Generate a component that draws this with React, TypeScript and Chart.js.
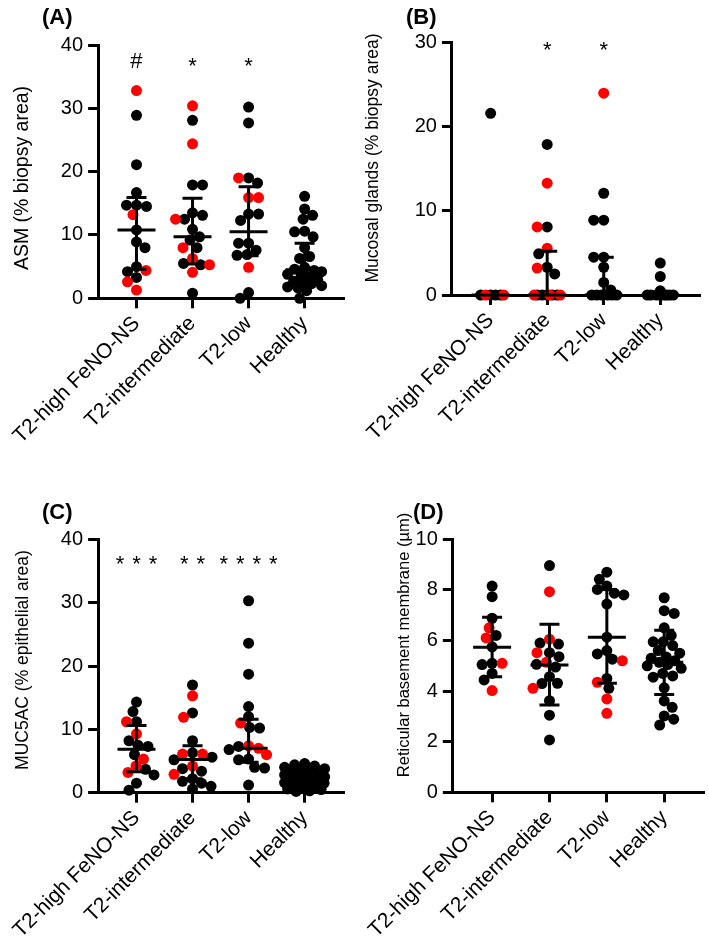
import React, { useEffect, useRef } from 'react';
import { Chart, registerables } from 'chart.js';

Chart.register(...registerables);

// ---------------- DATA ----------------
const categories = ['T2-high FeNO-NS', 'T2-intermediate', 'T2-low', 'Healthy'];

// (A) ASM (% biopsy area)
const asmBlack = [
  [28.9, 21.1, 16.7, 14.7, 14.7, 14.5, 10.8, 8.9, 8.0, 5.0, 4.2, 3.3],
  [28.1, 17.9, 17.9, 13.5, 13.1, 12.5, 10.9, 9.7, 9.2, 8.0, 5.5, 5.3, 0.8],
  [30.2, 27.7, 19.0, 18.2, 13.3, 13.3, 12.3, 8.7, 8.7, 7.6, 6.8, 6.9, 0.9, 0],
  [16.1, 14.1, 13.1, 12.5, 10.6, 10.5, 9.7, 8.0, 6.6, 6.3, 4.9, 4.6, 4.4, 4.2, 3.8, 3.5, 3.4, 3.0, 2.7, 2.5, 2.3, 2.0, 1.8, 1.6, 1.2, 0],
];
const asmRed = [
  [32.8, 13.2, 4.4, 2.6, 1.3],
  [30.4, 24.4, 12.5, 8.0, 6.3, 5.3, 4.1],
  [19.0, 15.9, 15.9, 4.9],
  [],
];
const asmMedian = [10.8, 9.7, 10.5, 4.5];
const asmQ1 = [4.6, 5.4, 6.7, 2.5];
const asmQ3 = [15.9, 15.8, 17.6, 8.7];
const asmMarks = ['#', '*', '*', ''];

// (B) Mucosal glands (% biopsy area)
const glandBlack = [
  [21.6, 0, 0, 0, 0],
  [17.9, 8.1, 4.9, 3.3, 2.5, 0, 0, 0, 0, 0],
  [12.1, 8.9, 8.9, 4.5, 4.5, 3.3, 1.5, 0.6, 0, 0, 0, 0, 0, 0],
  [3.8, 2.2, 0.5, 0, 0, 0, 0, 0, 0, 0, 0],
];
const glandRed = [
  [0, 0],
  [13.3, 8.1, 5.55, 3.2, 0, 0, 0],
  [24.0],
  [],
];
const glandMedian = [0, 0, 0, 0];
const glandQ1 = [0, 0, 0, 0];
const glandQ3 = [0, 5.2, 4.5, 0];
const glandMarks = ['', '*', '*', ''];

// (C) MUC5AC (% epithelial area)
const mucBlack = [
  [14.3, 12.8, 11.2, 8.2, 7.5, 7.3, 6.0, 3.7, 2.8, 1.5, 0.4],
  [17.0, 12.6, 8.2, 6.3, 5.6, 5.2, 3.8, 3.4, 2.2, 1.8, 1.5, 1.0, 0.6],
  [30.3, 23.6, 18.7, 13.6, 12.0, 10.3, 10.2, 7.3, 6.8, 5.3, 5.2, 4.0, 3.9, 1.2],
  [4.6, 4.4, 4.2, 4.0, 3.8, 3.6, 3.4, 3.2, 3.0, 2.8, 2.6, 2.5, 2.4, 2.2, 2.1, 2.0, 1.8, 1.6, 1.5, 1.3, 1.1, 1.0, 0.8, 0.6, 0.5, 0.3, 0.2],
];
const mucRed = [
  [11.2, 9.3, 5.3, 4.2, 3.2],
  [15.3, 11.9, 6.1, 6.1, 4.2, 2.9],
  [11.0, 7.4, 7.0, 6.0],
  [],
];
const mucMedian = [6.85, 5.25, 7.0, 2.2];
const mucQ1 = [3.3, 2.2, 4.8, 1.3];
const mucQ3 = [10.6, 7.4, 11.6, 3.0];
const mucMarks = ['***', '**', '****', ''];

// (D) Reticular basement membrane (µm)
const rbmBlack = [
  [8.15, 7.73, 6.88, 6.2, 5.75, 5.05, 5.1, 4.7, 4.44],
  [8.96, 5.9, 5.86, 5.52, 5.36, 5.06, 4.95, 4.57, 4.31, 4.3, 3.62, 3.05, 2.07],
  [8.7, 8.42, 8.15, 8.02, 7.87, 7.8, 7.44, 6.13, 5.6, 5.47, 5.26, 4.5, 4.11],
  [7.69, 7.18, 7.07, 6.5, 6.2, 5.95, 5.95, 5.8, 5.6, 5.5, 5.35, 5.3, 5.2, 5.14, 5.05, 5.0, 4.9, 4.7, 4.6, 4.55, 4.13, 3.61, 3.36, 3.02, 2.89, 2.66],
];
const rbmRed = [
  [6.5, 6.1, 5.1, 4.02],
  [7.93, 6.05, 5.52, 5.14, 4.11],
  [5.2, 4.35, 3.69, 3.12],
  [],
];
const rbmMedian = [5.73, 5.03, 6.13, 5.14];
const rbmQ1 = [4.57, 3.45, 4.31, 3.87];
const rbmQ3 = [6.92, 6.64, 8.02, 6.41];
const rbmMarks = ['', '', '', ''];

// ---------------- STYLE / LAYOUT ----------------
const FONT = '"Liberation Sans", Arial, sans-serif';
const RED = '#ff0000';
const BLACK = '#000000';

type Panel = {
  key: string;
  label: string;
  yTitle: string;
  black: number[][];
  red: number[][];
  median: number[];
  q1: number[];
  q3: number[];
  marks: string[];
  markY: number;
  yMax: number;
  yStep: number;
  box: { left: number; top: number; width: number; height: number };
  area: { left: number; top: number; right: number; bottom: number };
  titleX: number;
  titleY: number;
  titleSize: number;
  labelX: number;
  labelY: number;
  swarmHalf: number;
};

const panels: Panel[] = [
  {
    key: 'A', label: '(A)', yTitle: 'ASM (% biopsy area)',
    black: asmBlack, red: asmRed, median: asmMedian, q1: asmQ1, q3: asmQ3,
    marks: asmMarks, markY: 37.6, yMax: 40, yStep: 10,
    box: { left: 0, top: 0, width: 354, height: 465 },
    area: { left: 88.3, top: 45, right: 343, bottom: 298.3 },
    titleX: 23, titleY: 178, titleSize: 19.5, labelX: 42, labelY: 24, swarmHalf: 17,
  },
  {
    key: 'B', label: '(B)', yTitle: 'Mucosal glands (% biopsy area)',
    black: glandBlack, red: glandRed, median: glandMedian, q1: glandQ1, q3: glandQ3,
    marks: glandMarks, markY: 29.85, yMax: 30, yStep: 10,
    box: { left: 354, top: 0, width: 355, height: 465 },
    area: { left: 443.3, top: 42.7, right: 699, bottom: 295 },
    titleX: 373, titleY: 158, titleSize: 17.5, labelX: 406, labelY: 24, swarmHalf: 13,
  },
  {
    key: 'C', label: '(C)', yTitle: 'MUC5AC (% epithelial area)',
    black: mucBlack, red: mucRed, median: mucMedian, q1: mucQ1, q3: mucQ3,
    marks: mucMarks, markY: 36.9, yMax: 40, yStep: 10,
    box: { left: 0, top: 465, width: 354, height: 485 },
    area: { left: 88.3, top: 539.3, right: 343, bottom: 792.7 },
    titleX: 23, titleY: 660, titleSize: 17.5, labelX: 42, labelY: 519, swarmHalf: 20,
  },
  {
    key: 'D', label: '(D)', yTitle: 'Reticular basement membrane (µm)',
    black: rbmBlack, red: rbmRed, median: rbmMedian, q1: rbmQ1, q3: rbmQ3,
    marks: rbmMarks, markY: 9.5, yMax: 10, yStep: 2,
    box: { left: 354, top: 465, width: 355, height: 485 },
    area: { left: 452.7, top: 539.3, right: 708, bottom: 792.3 },
    titleX: 404, titleY: 645, titleSize: 16.5, labelX: 413, labelY: 519, swarmHalf: 17,
  },
];

const X_MIN = -0.685;
const X_MAX = 3.685;
const DOT_R = 5.5;
const MARK_GAP = 16.5;

function swarmOffsets(ysPx: number[], minDist: number, maxHalf: number): number[] {
  const n = ysPx.length;
  const order = Array.from({ length: n }, (_, i) => i).sort((a, b) => ysPx[a] - ysPx[b]);
  const placed: { x: number; y: number }[] = [];
  const out = new Array(n).fill(0);
  const step = 0.5;
  for (const i of order) {
    const y = ysPx[i];
    const flip = placed.length % 2 === 1;
    const cands: number[] = [0];
    for (let m = step; m <= maxHalf + 1e-9; m += step) {
      if (flip) cands.push(-m, m);
      else cands.push(m, -m);
    }
    let bestX = 0;
    let bestScore = -Infinity;
    for (const cx of cands) {
      let minD = Infinity;
      for (const p of placed) {
        const d = Math.hypot(p.x - cx, p.y - y);
        if (d < minD) minD = d;
      }
      if (minD >= minDist) { bestX = cx; bestScore = Infinity; break; }
      if (minD > bestScore + 0.01) { bestScore = minD; bestX = cx; }
    }
    placed.push({ x: bestX, y });
    out[i] = bestX;
  }
  return out;
}

function makePlugin(p: Panel) {
  return {
    id: 'panelDecor' + p.key,
    afterDatasetsDraw(chart: any) {
      const { ctx, scales } = chart;
      const xs = scales.x;
      const ys = scales.y;
      ctx.save();
      ctx.strokeStyle = BLACK;
      ctx.lineWidth = 3;
      ctx.lineCap = 'butt';
      for (let i = 0; i < categories.length; i++) {
        const cx = xs.getPixelForValue(i);
        const yMed = ys.getPixelForValue(p.median[i]);
        const yLo = ys.getPixelForValue(p.q1[i]);
        const yHi = ys.getPixelForValue(p.q3[i]);
        ctx.beginPath();
        ctx.moveTo(cx, yLo);
        ctx.lineTo(cx, yHi);
        ctx.moveTo(cx - 10, yLo);
        ctx.lineTo(cx + 10, yLo);
        ctx.moveTo(cx - 10, yHi);
        ctx.lineTo(cx + 10, yHi);
        ctx.moveTo(cx - 19, yMed);
        ctx.lineTo(cx + 19, yMed);
        ctx.stroke();
      }
      // significance marks
      const size = 22;
      ctx.fillStyle = BLACK;
      ctx.font = `${size}px ${FONT}`;
      ctx.textAlign = 'center';
      ctx.textBaseline = 'alphabetic';
      for (let i = 0; i < categories.length; i++) {
        const m = p.marks[i];
        if (!m) continue;
        const cx = xs.getPixelForValue(i);
        const cy = ys.getPixelForValue(p.markY);
        const chars = m.split('');
        const start = cx - ((chars.length - 1) * MARK_GAP) / 2;
        chars.forEach((ch, k) => {
          const off = ch === '#' ? 0.35 : 0.57;
          ctx.fillText(ch, start + k * MARK_GAP, cy + off * size);
        });
      }
      ctx.restore();
    },
    afterDraw(chart: any) {
      const { ctx } = chart;
      ctx.save();
      ctx.fillStyle = BLACK;
      ctx.font = `bold 22px ${FONT}`;
      ctx.textAlign = 'left';
      ctx.textBaseline = 'alphabetic';
      ctx.fillText(p.label, p.labelX - p.box.left, p.labelY - p.box.top);
      // y-axis title
      ctx.translate(p.titleX - p.box.left, p.titleY - p.box.top);
      ctx.rotate(-Math.PI / 2);
      ctx.font = `${p.titleSize}px ${FONT}`;
      ctx.textAlign = 'center';
      ctx.textBaseline = 'middle';
      ctx.fillText(p.yTitle, 0, 0);
      ctx.restore();
    },
  };
}

function PanelChart({ panel }: { panel: Panel }) {
  const ref = useRef<HTMLCanvasElement | null>(null);

  useEffect(() => {
    const canvas = ref.current;
    if (!canvas) return;
    const p = panel;
    const localLeft = p.area.left - p.box.left;
    const localTop = p.area.top - p.box.top;
    const padRight = p.box.left + p.box.width - p.area.right;
    const xHeight = p.box.top + p.box.height - p.area.bottom;

    const pts: { g: number; v: number; c: string }[] = [];
    categories.forEach((_, gi) => {
      p.black[gi].forEach((v) => pts.push({ g: gi, v, c: BLACK }));
      p.red[gi].forEach((v) => pts.push({ g: gi, v, c: RED }));
    });

    const gridOpts = {
      display: true,
      drawOnChartArea: false,
      drawTicks: true,
      tickLength: 10,
      lineWidth: 3,
      color: BLACK,
    };
    const borderOpts = { display: true, width: 3, color: BLACK };

    const chart = new Chart(canvas, {
      type: 'scatter',
      data: {
        datasets: [
          {
            data: pts.map((pt) => ({ x: pt.g, y: pt.v })),
            pointBackgroundColor: pts.map((pt) => pt.c),
            pointBorderColor: 'rgba(0,0,0,0)',
            pointBorderWidth: 0,
            pointRadius: DOT_R,
            pointHoverRadius: DOT_R,
            clip: false,
          } as any,
        ],
      },
      options: {
        animation: false,
        responsive: false,
        events: [],
        layout: { padding: { left: 0, top: localTop, right: padRight, bottom: 0 } },
        plugins: { legend: { display: false }, tooltip: { enabled: false }, title: { display: false } },
        scales: {
          x: {
            type: 'linear',
            min: X_MIN,
            max: X_MAX,
            afterBuildTicks: (s: any) => {
              s.ticks = categories.map((_, i) => ({ value: i }));
            },
            afterFit: (s: any) => {
              s.height = xHeight;
            },
            ticks: {
              autoSkip: false,
              minRotation: 45,
              maxRotation: 45,
              padding: 3,
              color: BLACK,
              font: { family: FONT, size: 21 },
              callback: (v: any) => categories[Math.round(Number(v))] ?? '',
            },
            grid: gridOpts,
            border: borderOpts,
          },
          y: {
            type: 'linear',
            min: 0,
            max: p.yMax,
            afterFit: (s: any) => {
              s.width = localLeft;
            },
            ticks: {
              stepSize: p.yStep,
              padding: 5,
              color: BLACK,
              font: { family: FONT, size: 20 },
            },
            grid: gridOpts,
            border: borderOpts,
          },
        },
      } as any,
      plugins: [makePlugin(p)],
    });

    // beeswarm offsets computed in pixel space from the library's scales
    const xs: any = chart.scales.x;
    const ys: any = chart.scales.y;
    const unit = xs.getPixelForValue(1) - xs.getPixelForValue(0);
    const offs = new Array(pts.length).fill(0);
    categories.forEach((_, gi) => {
      const idx = pts.map((pt, i) => (pt.g === gi ? i : -1)).filter((i) => i >= 0);
      const yPx = idx.map((i) => ys.getPixelForValue(pts[i].v));
      const o = swarmOffsets(yPx, 10, p.swarmHalf);
      idx.forEach((i, k) => {
        offs[i] = o[k];
      });
    });
    (chart.data.datasets[0] as any).data = pts.map((pt, i) => ({ x: pt.g + offs[i] / unit, y: pt.v }));
    chart.update();

    return () => chart.destroy();
  }, [panel]);

  return (
    <canvas
      ref={ref}
      width={panel.box.width}
      height={panel.box.height}
      style={{
        position: 'absolute',
        left: panel.box.left,
        top: panel.box.top,
        width: panel.box.width,
        height: panel.box.height,
      }}
    />
  );
}

export default function App() {
  return (
    <div style={{ position: 'absolute', left: 0, top: 0, width: 709, height: 950, background: '#ffffff' }}>
      {panels.map((p) => (
        <PanelChart key={p.key} panel={p} />
      ))}
    </div>
  );
}
